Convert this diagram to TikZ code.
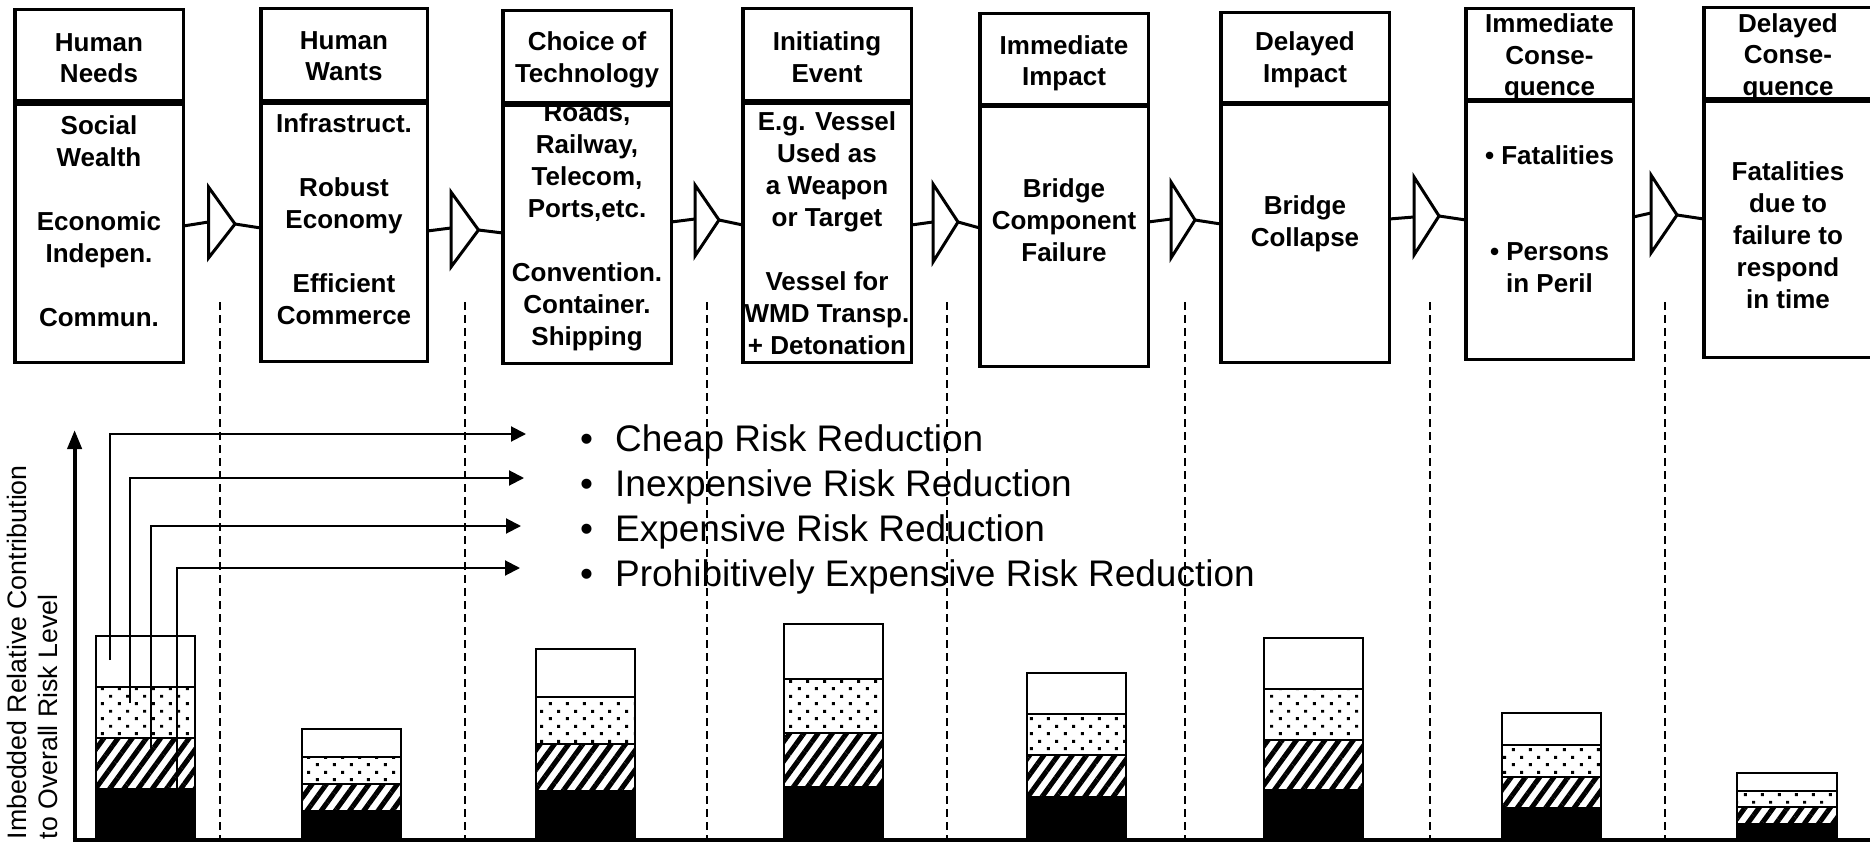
\documentclass[tikz,border=0pt]{standalone}
\usepackage{fontspec}
\setmainfont{Liberation Sans}
\usetikzlibrary{arrows.meta,patterns.meta}

\tikzdeclarepattern{
  name=bardots,
  type=uncolored,
  bottom left={(0pt,0pt)},
  top right={(16.6pt,15.2pt)},
  tile size={(16.6pt,15.2pt)},
  code={
    \pgfpathrectangle{\pgfpoint{1pt}{1pt}}{\pgfpoint{3pt}{3pt}}
    \pgfpathrectangle{\pgfpoint{9.3pt}{8.6pt}}{\pgfpoint{3pt}{3pt}}
    \pgfusepath{fill}
  }
}

\newcommand\mkrect[6]{% name, style, L, T, R, B
  \node[#2, minimum width={(#5)-(#3)}, minimum height={(#6)-(#4)}] (#1)
    at ({((#3)+(#5))/2},{((#4)+(#6))/2}) {};}

\newcommand\stackbar[6]{% L, R, top, dot-top, hatch-top, black-top
  \draw[bandline, fill=white] (#1,#3) rectangle (#2,#4);
  \draw[bandline, pattern=bardots] (#1,#4) rectangle (#2,#5);
  \draw[bandline, pattern={Lines[angle=54,distance=11.5pt,line width=5pt]}] (#1,#5) rectangle (#2,#6);
  \draw[bandline, fill=black] (#1,#6) rectangle (#2,840);}

\begin{document}
\begin{tikzpicture}[x=1pt,y=-1pt,
  box/.style={draw, line width=3.5pt, fill=white, rectangle, inner sep=0pt, outer sep=0pt},
  bodytxt/.style={font=\bfseries\fontsize{26}{32}\selectfont, align=center, inner sep=0pt},
  hdrtxt/.style={font=\bfseries\fontsize{26}{31.5}\selectfont, align=center, inner sep=0pt},
  conn/.style={line width=3pt},
  tri/.style={line width=3pt, fill=white, line join=miter},
  vdash/.style={line width=1.6pt, dash pattern=on 8pt off 5pt},
  bandline/.style={line width=1.5pt},
  legarr/.style={line width=2pt, -{Triangle[length=15pt,width=15pt]}},
  axis/.style={line width=4pt},
  legtxt/.style={font=\fontsize{37}{45}\selectfont, inner sep=0pt},
  ylab/.style={font=\fontsize{26.7}{31}\selectfont, align=left, inner sep=0pt}
]
\useasboundingbox (0,0) rectangle (1870,842);
\clip (0,0) rectangle (1870,842);
\fill[white] (0,0) rectangle (1870,842);

% dashed separators
\foreach \x in {220,465,707,947,1185,1430,1665}
  \draw[vdash] (\x,302) -- (\x,840);

% ---- boxes ----
% B1
\mkrect{b1}{box}{14.75}{104}{183.25}{362.25}
\node[bodytxt] (b1t) at (99,221) {Social\\Wealth\\[32pt]Economic\\Indepen.\\[32pt]Commun.};
\mkrect{h1}{box}{14.75}{9.75}{183.25}{101}
\node[hdrtxt] (h1t) at (99,58) {Human\\Needs};
% B2
\mkrect{b2}{box}{260.75}{103.25}{427.25}{361.25}
\node[bodytxt] (b2t) at (344,219) {Infrastruct.\\[32pt]Robust\\Economy\\[32pt]Efficient\\Commerce};
\mkrect{h2}{box}{260.75}{8.75}{427.25}{100.75}
\node[hdrtxt] (h2t) at (344,56) {Human\\Wants};
% B3
\mkrect{b3}{box}{502.75}{105.25}{671.25}{363.25}
\node[bodytxt] (b3t) at (587,227) {Roads,\\Railway,\\Telecom,\\Ports,etc.\\[32pt]Convention.\\Container.\\Shipping};
\mkrect{h3}{box}{502.75}{10.75}{671.25}{102.75}
\node[hdrtxt] (h3t) at (587,60) {Choice of\\Technology};
% B4
\mkrect{b4}{box}{742.75}{103.25}{911.25}{362.25}
\node[bodytxt] (b4t) at (827,233.5) {E.g. Vessel\\Used as\\a Weapon\\or Target\\[32pt]Vessel for\\WMD Transp.\\+ Detonation};
\mkrect{h4}{box}{742.75}{8.75}{911.25}{100.75}
\node[hdrtxt] (h4t) at (827,57) {Initiating\\Event};
% B5
\mkrect{b5}{box}{979.75}{106.25}{1148.25}{366.25}
\node[bodytxt] (b5t) at (1064,220) {Bridge\\Component\\Failure};
\mkrect{h5}{box}{979.75}{13.75}{1148.25}{104.75}
\node[hdrtxt] (h5t) at (1064,63.5) {Immediate\\Impact};
% B6
\mkrect{b6}{box}{1220.75}{104.25}{1389.25}{362.25}
\node[bodytxt] (b6t) at (1305,224) {Bridge\\Collapse};
\mkrect{h6}{box}{1220.75}{12.75}{1389.25}{102.75}
\node[hdrtxt] (h6t) at (1305,60) {Delayed\\Impact};
% B7
\mkrect{h7}{box}{1465.75}{8.75}{1633.25}{99.75}
\node[hdrtxt] (h7t) at (1549.5,57.5) {Immediate\\Conse-\\quence};
\mkrect{b7}{box}{1465.75}{101.25}{1633.25}{359.25}
\node[bodytxt] (b7t) at (1549.5,219) {• Fatalities\\[64pt]• Persons\\in Peril};
% B8
\mkrect{h8}{box}{1703.75}{7.75}{1872.5}{98.75}
\node[hdrtxt] (h8t) at (1788,57) {Delayed\\Conse-\\quence};
\mkrect{b8}{box}{1703.75}{101.25}{1872.5}{357.25}
\node[bodytxt] (b8t) at (1788,235) {Fatalities\\due to\\failure to\\respond\\in time};

% ---- triangle connectors ----
% T1
\coordinate (t1b) at (208.5,222); \coordinate (t1u) at (208.5,187);
\coordinate (t1d) at (208.5,258); \coordinate (t1p) at (235,224);
\draw[conn] ([yshift=7.1pt]b1.east) -- (t1b);
\draw[tri] (t1u) -- (t1p) -- (t1d) -- cycle;
\draw[conn] (t1p) -- ([yshift=4.25pt]b2.west);
% T2
\coordinate (t2b) at (451,228); \coordinate (t2u) at (451,192);
\coordinate (t2d) at (451,267); \coordinate (t2p) at (478.5,230);
\draw[conn] ([yshift=1.25pt]b2.east) -- (t2b);
\draw[tri] (t2u) -- (t2p) -- (t2d) -- cycle;
\draw[conn] (t2p) -- ([yshift=1.25pt]b3.west);
% T3
\coordinate (t3b) at (695,219); \coordinate (t3u) at (695,185);
\coordinate (t3d) at (695,256); \coordinate (t3p) at (719,220);
\draw[conn] ([yshift=12.25pt]b3.east) -- (t3b);
\draw[tri] (t3u) -- (t3p) -- (t3d) -- cycle;
\draw[conn] (t3p) -- ([yshift=7.75pt]b4.west);
% T4
\coordinate (t4b) at (933,222); \coordinate (t4u) at (933,184);
\coordinate (t4d) at (933,262); \coordinate (t4p) at (958,222);
\draw[conn] ([yshift=7.75pt]b4.east) -- (t4b);
\draw[tri] (t4u) -- (t4p) -- (t4d) -- cycle;
\draw[conn] (t4p) -- ([yshift=8.25pt]b5.west);
% T5
\coordinate (t5b) at (1171,219); \coordinate (t5u) at (1171,182);
\coordinate (t5d) at (1171,258); \coordinate (t5p) at (1195,220);
\draw[conn] ([yshift=14.25pt]b5.east) -- (t5b);
\draw[tri] (t5u) -- (t5p) -- (t5d) -- cycle;
\draw[conn] (t5p) -- ([yshift=9.25pt]b6.west);
% T6
\coordinate (t6b) at (1414,217); \coordinate (t6u) at (1414,177);
\coordinate (t6d) at (1414,255); \coordinate (t6p) at (1439,216);
\draw[conn] ([yshift=14.25pt]b6.east) -- (t6b);
\draw[tri] (t6u) -- (t6p) -- (t6d) -- cycle;
\draw[conn] (t6p) -- ([yshift=10.25pt]b7.west);
% T7
\coordinate (t7b) at (1651,213); \coordinate (t7u) at (1651,175);
\coordinate (t7d) at (1651,253); \coordinate (t7p) at (1677,215);
\draw[conn] ([yshift=13.25pt]b7.east) -- (t7b);
\draw[tri] (t7u) -- (t7p) -- (t7d) -- cycle;
\draw[conn] (t7p) -- ([yshift=10.25pt]b8.west);

% ---- stacked bars ----
\stackbar{96}{195}{636}{687}{738}{789}
\stackbar{302}{401}{729}{757}{784}{811}
\stackbar{536}{635}{649}{697}{744}{791}
\stackbar{784}{883}{624}{679}{733}{787}
\stackbar{1027}{1126}{673}{714}{755}{797}
\stackbar{1264}{1363}{638}{689}{740}{790}
\stackbar{1502}{1601}{713}{745}{777}{808}
\stackbar{1737}{1837}{773}{791}{807}{824}

% ---- legend ----
\node[legtxt, anchor=base west] (leg1) at (580,451.7) {\makebox[35pt][l]{•}Cheap Risk Reduction};
\node[legtxt, anchor=base west] (leg2) at (580,496.7) {\makebox[35pt][l]{•}Inexpensive Risk Reduction};
\node[legtxt, anchor=base west] (leg3) at (580,541.7) {\makebox[35pt][l]{•}Expensive Risk Reduction};
\node[legtxt, anchor=base west] (leg4) at (580,586.7) {\makebox[35pt][l]{•}Prohibitively Expensive Risk Reduction};

\coordinate (s1) at (110,660); \coordinate (e1) at (526,434);
\coordinate (s2) at (130,703); \coordinate (e2) at (524,478);
\coordinate (s3) at (151,748); \coordinate (e3) at (521,526);
\coordinate (s4) at (177,800); \coordinate (e4) at (520,568);
\draw[legarr] (s1) |- (e1);
\draw[legarr] (s2) |- (e2);
\draw[legarr] (s3) |- (e3);
\draw[legarr] (s4) |- (e4);

% ---- axes ----
\coordinate (origin) at (74.6,840);
\coordinate (xend) at (1875,840);
\coordinate (ytip) at (74.6,430);
\draw[axis] (72.6,840) -- (xend);
\draw[axis, -{Triangle[length=19pt,width=14pt]}] (74.6,842) -- (ytip);

\node[ylab, rotate=90, anchor=north west] (ylab) at (7,839.5)
  {Imbedded Relative Contribution\\to Overall Risk Level};
\end{tikzpicture}
\end{document}
